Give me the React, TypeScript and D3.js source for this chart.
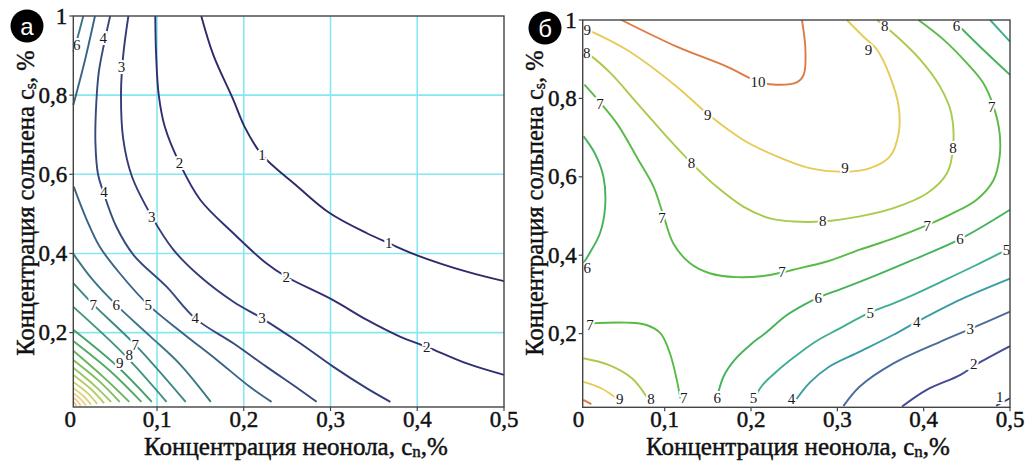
import React from 'react'
import * as d3 from 'd3'

type Pt = [number, number]

// panel a: contour lines, x = neonol %, y = solpen %
const a1: Pt[] = [[0.151,1],[0.165,0.901],[0.188,0.788],[0.201,0.72],[0.221,0.649],[0.26,0.573],[0.299,0.502],[0.342,0.451],[0.367,0.426],[0.399,0.396],[0.457,0.354],[0.5,0.33]]
const a2: Pt[] = [[0.098,1],[0.099,0.9],[0.102,0.8],[0.109,0.72],[0.126,0.628],[0.15,0.535],[0.188,0.451],[0.226,0.375],[0.249,0.341],[0.303,0.282],[0.342,0.232],[0.38,0.19],[0.411,0.164],[0.457,0.122],[0.5,0.093]]
const a3: Pt[] = [[0.067,1],[0.061,0.9],[0.0585,0.805],[0.061,0.69],[0.071,0.595],[0.094,0.493],[0.119,0.409],[0.15,0.341],[0.188,0.278],[0.221,0.236],[0.265,0.173],[0.303,0.114],[0.342,0.059],[0.369,0.025]]
const a4: Pt[] = [[0.046,1],[0.039,0.93],[0.033,0.86],[0.03,0.78],[0.029,0.68],[0.032,0.6],[0.038,0.556],[0.053,0.468],[0.073,0.396],[0.111,0.316],[0.144,0.236],[0.188,0.173],[0.226,0.114],[0.265,0.055],[0.284,0.025]]
const a5: Pt[] = [[0.004,0.569],[0.019,0.485],[0.034,0.417],[0.057,0.35],[0.09,0.27],[0.13,0.198],[0.169,0.131],[0.207,0.063],[0.232,0.025]]
const a5top: Pt[] = [[0.0285,1],[0.017,0.889],[0.0035,0.775]]
const a6top: Pt[] = [[0.015,1],[0.009,0.95],[0.0035,0.91]]
const a6: Pt[] = [[0.0035,0.399],[0.026,0.333],[0.053,0.27],[0.092,0.191],[0.126,0.121],[0.162,0.025]]
const a7: Pt[] = [[0.0035,0.325],[0.027,0.27],[0.075,0.169],[0.133,0.025]]
const a8: Pt[] = [[0.0035,0.265],[0.062,0.145],[0.111,0.025]]
const a9: Pt[] = [[0.0035,0.207],[0.054,0.115],[0.094,0.025]]
const a10: Pt[] = [[0.0035,0.179],[0.046,0.103],[0.082,0.025]]
const a11: Pt[] = [[0.0035,0.154],[0.038,0.088],[0.068,0.025]]
const a12: Pt[] = [[0.0035,0.131],[0.033,0.078],[0.057,0.025]]
const a13: Pt[] = [[0.0035,0.111],[0.028,0.066],[0.047,0.025]]
const a14: Pt[] = [[0.0035,0.093],[0.024,0.057],[0.039,0.022]]
const a15: Pt[] = [[0.0035,0.075],[0.02,0.047],[0.031,0.02]]
const a16: Pt[] = [[0.0035,0.06],[0.016,0.038],[0.024,0.018]]
const a17: Pt[] = [[0.0035,0.047],[0.012,0.032],[0.018,0.016]]
const a18: Pt[] = [[0.0035,0.036],[0.009,0.025],[0.012,0.015]]
const a19: Pt[] = [[0.0035,0.026],[0.007,0.015]]

// [level, x, y]
const labelsA: [number, number, number][] = [
  [6,0.0074,0.927],[4,0.038,0.944],[3,0.059,0.872],[1,0.221,0.649],[2,0.126,0.628],
  [4,0.039,0.556],[3,0.094,0.493],[1,0.367,0.426],[2,0.249,0.341],[7,0.0266,0.27],
  [6,0.053,0.27],[5,0.09,0.27],[4,0.144,0.236],[3,0.221,0.236],[2,0.411,0.164],
  [7,0.075,0.169],[8,0.068,0.143],[9,0.057,0.122],
]

// panel b
const b1: Pt[] = [[0.484,0.016],[0.5,0.035]]
const b2: Pt[] = [[0.375,0.014],[0.403,0.056],[0.442,0.094],[0.46,0.12],[0.5,0.168]]
const b3: Pt[] = [[0.307,0.015],[0.326,0.065],[0.365,0.124],[0.419,0.179],[0.454,0.212],[0.5,0.256]]
const b4: Pt[] = [[0.249,0.022],[0.268,0.075],[0.29,0.115],[0.326,0.154],[0.365,0.197],[0.392,0.23],[0.442,0.286],[0.5,0.34]]
const b5: Pt[] = [[0.203,0.028],[0.212,0.065],[0.228,0.1],[0.25,0.14],[0.275,0.18],[0.3,0.21],[0.338,0.254],[0.365,0.277],[0.384,0.295],[0.423,0.335],[0.461,0.375],[0.5,0.418]]
const b5top: Pt[] = [[0.477,1],[0.5,0.945]]
const b6: Pt[] = [[0.16,0.03],[0.168,0.09],[0.181,0.133],[0.201,0.175],[0.216,0.2],[0.24,0.245],[0.26,0.272],[0.278,0.292],[0.307,0.316],[0.346,0.35],[0.384,0.385],[0.442,0.441],[0.5,0.516]]
const b6top: Pt[] = [[0.434,1],[0.469,0.924],[0.5,0.86]]
const b6left: Pt[] = [[0.006,0.703],[0.019,0.66],[0.029,0.6],[0.031,0.524],[0.025,0.456],[0.013,0.405],[0.006,0.38]]
const b7: Pt[] = [[0.007,0.835],[0.025,0.79],[0.045,0.735],[0.069,0.645],[0.087,0.575],[0.098,0.505],[0.11,0.43],[0.129,0.38],[0.152,0.354],[0.183,0.344],[0.214,0.347],[0.236,0.356],[0.249,0.363],[0.288,0.384],[0.326,0.414],[0.365,0.443],[0.404,0.477],[0.43,0.503],[0.461,0.541],[0.481,0.592],[0.488,0.652],[0.488,0.711],[0.481,0.779],[0.469,0.839],[0.45,0.89],[0.423,0.95],[0.394,1]]
const b7low: Pt[] = [[0.014,0.226],[0.056,0.228],[0.079,0.222],[0.095,0.201],[0.106,0.15],[0.114,0.082],[0.118,0.035]]
const b8: Pt[] = [[0.006,0.92],[0.013,0.911],[0.037,0.865],[0.068,0.788],[0.102,0.703],[0.131,0.635],[0.16,0.575],[0.191,0.524],[0.222,0.494],[0.249,0.486],[0.283,0.486],[0.326,0.499],[0.365,0.52],[0.404,0.558],[0.427,0.609],[0.434,0.673],[0.432,0.762],[0.419,0.83],[0.396,0.899],[0.369,0.958],[0.346,1]]
const b8low: Pt[] = [[0.0057,0.137],[0.035,0.12],[0.062,0.086],[0.079,0.039]]
const b9: Pt[] = [[0.011,0.975],[0.056,0.924],[0.114,0.83],[0.151,0.758],[0.191,0.694],[0.23,0.652],[0.268,0.622],[0.309,0.613],[0.338,0.622],[0.361,0.652],[0.371,0.711],[0.371,0.779],[0.361,0.856],[0.346,0.924],[0.33,0.958],[0.311,1]]
const b9low: Pt[] = [[0.0057,0.077],[0.027,0.06],[0.044,0.035]]
const b10: Pt[] = [[0.05,1],[0.114,0.932],[0.172,0.881],[0.208,0.843],[0.23,0.835],[0.253,0.841],[0.261,0.86],[0.263,0.924],[0.259,1]]
const b10low: Pt[] = [[0.0057,0.031],[0.015,0.02]]

const labelsB: [number, number, number][] = [
  [9,0.0103,0.975],[8,0.0096,0.915],[7,0.025,0.786],[6,0.0103,0.367],[7,0.0135,0.222],
  [10,0.208,0.843],[9,0.15,0.758],[9,0.336,0.924],[8,0.355,0.985],[6,0.438,0.985],
  [7,0.479,0.779],[8,0.434,0.673],[9,0.309,0.622],[8,0.131,0.635],[8,0.283,0.486],
  [7,0.097,0.494],[7,0.404,0.475],[6,0.442,0.441],[5,0.496,0.414],[7,0.236,0.356],
  [6,0.278,0.292],[5,0.338,0.253],[4,0.392,0.23],[3,0.454,0.211],[2,0.458,0.122],
  [1,0.488,0.039],[9,0.048,0.034],[8,0.084,0.034],[7,0.122,0.036],[6,0.161,0.036],
  [5,0.203,0.036],[4,0.247,0.034],
]

const xTicks = [0, 0.1, 0.2, 0.3, 0.4, 0.5]
const yTicks = [0.2, 0.4, 0.6, 0.8, 1]
const gridX = [0.1, 0.2, 0.3, 0.4]
const gridY = [0.2, 0.4, 0.6, 0.8]

const contoursA = [
  {level: 1, pts: a1}, {level: 2, pts: a2}, {level: 3, pts: a3}, {level: 4, pts: a4},
  {level: 5, pts: a5}, {level: 5, pts: a5top}, {level: 6, pts: a6top}, {level: 6, pts: a6},
  {level: 7, pts: a7}, {level: 8, pts: a8}, {level: 9, pts: a9}, {level: 10, pts: a10},
  {level: 11, pts: a11}, {level: 12, pts: a12}, {level: 13, pts: a13}, {level: 14, pts: a14},
  {level: 15, pts: a15}, {level: 16, pts: a16}, {level: 17, pts: a17}, {level: 18, pts: a18},
  {level: 19, pts: a19},
]
const contoursB = [
  {level: 1, pts: b1}, {level: 2, pts: b2}, {level: 3, pts: b3}, {level: 4, pts: b4},
  {level: 5, pts: b5}, {level: 5, pts: b5top}, {level: 6, pts: b6}, {level: 6, pts: b6top},
  {level: 6, pts: b6left}, {level: 7, pts: b7}, {level: 7, pts: b7low}, {level: 8, pts: b8},
  {level: 8, pts: b8low}, {level: 9, pts: b9}, {level: 9, pts: b9low}, {level: 10, pts: b10},
  {level: 10, pts: b10low},
]

const colorsA = ['#000', '#2d2a6a', '#302f72', '#333c78', '#35497d', '#3a6485', '#3b7688',
  '#3e8882', '#40947a', '#45a06e', '#52aa63', '#66b55c', '#80be5a', '#9cc65e', '#b6cd68',
  '#ccd376', '#dcd684', '#e8d58c', '#efcd8e', '#f2c28a']
const colorsB = ['#000', '#3d3a8c', '#444a93', '#4a6c9d', '#3a9ca2', '#3fae94', '#45b25c',
  '#58bb46', '#a9cb4c', '#e6cb56', '#de7a42']

const serif = {fontFamily: '"Liberation Serif", serif'}
const fmt = (v: number) => String(v).replace('.', ',')

type PanelProps = {
  x: d3.ScaleLinear<number, number>
  y: d3.ScaleLinear<number, number>
  contours: {level: number, pts: Pt[]}[]
  labels: [number, number, number][]
  colors: string[]
  grid: boolean
  badge: string
  badgeX: number
  badgeY: number
  xTitleX: number
  yTitleX: number
  yTitleY: number
}

const Panel = ({x, y, contours, labels, colors, grid, badge, badgeX, badgeY, xTitleX, yTitleX, yTitleY}: PanelProps) => {
  const [x0, x1] = x.range()
  const [y0, y1] = y.range()
  const line = d3.line<Pt>().x(d => x(d[0])).y(d => y(d[1])).curve(d3.curveCatmullRom.alpha(0.5))
  return (
    <g>
      {grid && gridX.map(v => (
        <line key={'gx' + v} x1={x(v)} x2={x(v)} y1={y0} y2={y1} stroke="#86e6f1" strokeWidth={1.6} />
      ))}
      {grid && gridY.map(v => (
        <line key={'gy' + v} x1={x0} x2={x1} y1={y(v)} y2={y(v)} stroke="#86e6f1" strokeWidth={1.6} />
      ))}
      {contours.map((c, i) => (
        <path key={'c' + i} d={line(c.pts) || ''} fill="none" stroke={colors[c.level]} strokeWidth={1.9} />
      ))}
      {labels.map((l, i) => (
        <text key={'l' + i} x={x(l[1])} y={y(l[2])} textAnchor="middle" dominantBaseline="central"
          fontSize={15} fill="#1a1a1a" stroke="#fff" strokeWidth={4}
          style={{...serif, paintOrder: 'stroke'}}>{l[0]}</text>
      ))}
      <rect x={x0} y={y1} width={x1 - x0} height={y0 - y1} fill="none" stroke="#444" strokeWidth={1.4} />
      <g style={serif} fill="#111" stroke="#111" strokeWidth={0.45}>
        {yTicks.map(v => (
          <g key={'yt' + v}>
            <line x1={x0 - 4} x2={x0} y1={y(v)} y2={y(v)} stroke="#444" strokeWidth={1.2} />
            <text x={x0 - 6} y={y(v)} textAnchor="end" dominantBaseline="central" fontSize={23}>{fmt(v)}</text>
          </g>
        ))}
        {xTicks.map(v => (
          <g key={'xt' + v}>
            {v > 0 && <line x1={x(v)} x2={x(v)} y1={y0} y2={y0 + 4} stroke="#444" strokeWidth={1.2} />}
            <text x={x(v)} y={427} textAnchor="middle" fontSize={23}>{fmt(v)}</text>
          </g>
        ))}
        <text x={xTitleX} y={455} textAnchor="middle" fontSize={25}>
          Концентрация неонола, с<tspan fontSize={17} dy={2}>n</tspan><tspan dy={-2}>,%</tspan>
        </text>
        <text transform={`translate(${yTitleX},${yTitleY}) rotate(-90)`} textAnchor="middle" fontSize={24.5}>
          Концентрация сольпена с<tspan fontSize={16} dy={2}>s</tspan><tspan dy={-2}>, %</tspan>
        </text>
      </g>
      <circle cx={badgeX} cy={badgeY} r={16.5} fill="#000" />
      <text x={badgeX} y={badgeY} textAnchor="middle" dominantBaseline="central"
        fontSize={24} fill="#fff" style={{fontFamily: '"Liberation Sans", sans-serif'}}>{badge}</text>
    </g>
  )
}

export default function App() {
  const xA = d3.scaleLinear().domain([0.0035, 0.5]).range([73.3, 504])
  const yA = d3.scaleLinear().domain([0.012, 1]).range([407, 16])
  const xB = d3.scaleLinear().domain([0.005, 0.5]).range([582.7, 1010])
  const yB = d3.scaleLinear().domain([0.012, 1]).range([407.3, 20])
  return (
    <svg width={1029} height={461} style={{position: 'absolute', left: 0, top: 0, background: '#fff'}}>
      <rect width={1029} height={461} fill="#fff" />
      <Panel x={xA} y={yA} contours={contoursA} labels={labelsA} colors={colorsA} grid={true}
        badge="a" badgeX={27} badgeY={26} xTitleX={296} yTitleX={34} yTitleY={203} />
      <Panel x={xB} y={yB} contours={contoursB} labels={labelsB} colors={colorsB} grid={false}
        badge="б" badgeX={545} badgeY={28} xTitleX={798} yTitleX={543} yTitleY={203} />
    </svg>
  )
}
